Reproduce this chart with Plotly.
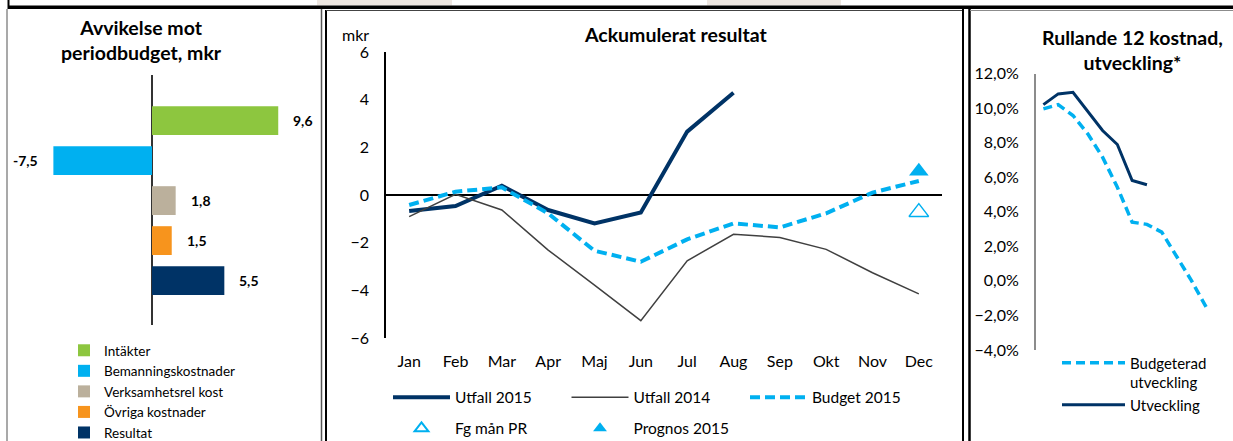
import plotly.graph_objects as go

W, H = 1233, 441

# ---------------- Data ----------------
# Left panel: deviation against period budget (mkr)
dev_categories = ["Intäkter", "Bemanningskostnader", "Verksamhetsrel kost", "Övriga kostnader", "Resultat"]
dev_values = [9.6, -7.5, 1.8, 1.5, 5.5]
dev_colors = ["#8DC63F", "#00B0F0", "#BBB09C", "#F7941D", "#003366"]

# Middle panel: accumulated result (mkr)
months = ["Jan", "Feb", "Mar", "Apr", "Maj", "Jun", "Jul", "Aug", "Sep", "Okt", "Nov", "Dec"]
utfall_2015 = [-0.67, -0.46, 0.39, -0.63, -1.19, -0.73, 2.66, 4.29, None, None, None, None]
utfall_2014 = [-0.91, 0.03, -0.63, -2.31, -3.78, -5.27, -2.76, -1.65, -1.78, -2.28, -3.26, -4.15]
budget_2015 = [-0.42, 0.14, 0.32, -0.77, -2.34, -2.80, -1.86, -1.19, -1.36, -0.77, 0.10, 0.59]
fg_man_pr = [None] * 11 + [-0.72]
prognos_2015 = [None] * 11 + [1.00]

# Right panel: rolling 12 cost development (%)
roll_months = list(range(1, 13))
roll_budget = [9.95, 10.2, 9.57, 8.51, 7.16, 5.42, 3.40, 3.27, 2.82, 1.38, 0.03, -1.51]
roll_utveckling = [10.2, 10.82, 10.91, 9.81, 8.70, 7.89, 5.81, 5.56, None, None, None, None]

NAVY = "#003366"
LIGHT = "#00B0F0"
FONT = "Lato"


def px_x(p):
    return p / W


def px_y(p):
    return 1 - p / H


fig = go.Figure()

# ---------------- Left: horizontal bars ----------------
for cat, val, col in zip(dev_categories, dev_values, dev_colors):
    fig.add_trace(go.Bar(
        x=[val], y=[cat], orientation="h", name=cat, width=0.72,
        marker=dict(color=col, line=dict(width=0)),
        xaxis="x", yaxis="y", legend="legend", hoverinfo="x+name",
    ))

# ---------------- Middle: lines ----------------
fig.add_trace(go.Scatter(x=months, y=utfall_2015, name="Utfall 2015", mode="lines",
                         line=dict(color=NAVY, width=4), xaxis="x2", yaxis="y2", legend="legend2"))
fig.add_trace(go.Scatter(x=months, y=utfall_2014, name="Utfall 2014", mode="lines",
                         line=dict(color="#404040", width=1.5), xaxis="x2", yaxis="y2", legend="legend2"))
fig.add_trace(go.Scatter(x=months, y=budget_2015, name="Budget 2015", mode="lines",
                         line=dict(color=LIGHT, width=4, dash="10px,5px"), xaxis="x2", yaxis="y2", legend="legend2"))
fig.add_trace(go.Scatter(x=months, y=fg_man_pr, name="Fg mån PR", mode="markers",
                         marker=dict(symbol="triangle-up-open", size=17, color=LIGHT, line=dict(width=1.5, color=LIGHT)),
                         xaxis="x2", yaxis="y2", legend="legend3"))
fig.add_trace(go.Scatter(x=months, y=prognos_2015, name="Prognos 2015", mode="markers",
                         marker=dict(symbol="triangle-up", size=17, color=LIGHT),
                         xaxis="x2", yaxis="y2", legend="legend3"))

# ---------------- Right: lines ----------------
fig.add_trace(go.Scatter(x=roll_months, y=roll_budget, name="Budgeterad<br>utveckling", mode="lines",
                         line=dict(color=LIGHT, width=3.5, dash="9px,5px"), xaxis="x3", yaxis="y3",
                         legend="legend4", legendgroup="b"))
fig.add_trace(go.Scatter(x=roll_months, y=roll_utveckling, name="Utveckling", mode="lines",
                         line=dict(color=NAVY, width=3), xaxis="x3", yaxis="y3",
                         legend="legend4", legendgroup="u"))

# ---------------- Axes ----------------
left_zero_px, left_scale = 152, 13.15
left_dom = (30, 310)
TICKF = dict(size=16, color="#000")
fig.update_layout(
    xaxis=dict(domain=[px_x(left_dom[0]), px_x(left_dom[1])],
               range=[(left_dom[0] - left_zero_px) / left_scale, (left_dom[1] - left_zero_px) / left_scale],
               showgrid=False, showticklabels=False, ticks="", showline=False,
               zeroline=True, zerolinecolor="#333333", zerolinewidth=1.5, anchor="y"),
    yaxis=dict(domain=[px_y(325), px_y(75)], type="category",
               categoryorder="array", categoryarray=dev_categories,
               range=[5.11, -1.14], showgrid=False, showticklabels=False, ticks="",
               showline=False, zeroline=False, anchor="x"),
    xaxis2=dict(domain=[px_x(386), px_x(942)], type="category", range=[-0.5, 11.5],
                showgrid=False, showline=False, ticks="", zeroline=False,
                tickfont=TICKF, ticklabelstandoff=12, anchor="y2"),
    yaxis2=dict(domain=[px_y(338), px_y(52)], range=[-6, 6], dtick=2, tick0=0,
                showgrid=False, showline=True, linecolor="#000", linewidth=1.5, ticks="",
                zeroline=True, zerolinecolor="#000", zerolinewidth=1.5,
                tickfont=TICKF, ticklabelstandoff=12, anchor="x2"),
    xaxis3=dict(domain=[px_x(1036), px_x(1213.5)], range=[0.5, 12.5],
                showgrid=False, showline=False, ticks="", showticklabels=False,
                zeroline=False, anchor="y3"),
    yaxis3=dict(domain=[px_y(350), px_y(73.5)], range=[-4, 12], dtick=2, tick0=0,
                tickformat=".1f", ticksuffix="%",
                showgrid=False, showline=True, linecolor="#8C8C8C", linewidth=2, ticks="",
                zeroline=False, tickfont=TICKF, ticklabelstandoff=12,
                anchor="x3"),
)

# ---------------- Legends ----------------
fig.update_layout(
    showlegend=True,
    legend=dict(x=px_x(64), y=px_y(335), xanchor="left", yanchor="top", orientation="v",
                traceorder="normal", bgcolor="rgba(0,0,0,0)", font=dict(size=13.5, color="#000")),
    legend2=dict(x=px_x(388), y=px_y(380.75), xanchor="left", yanchor="top", orientation="h",
                 itemwidth=57, entrywidth=106.5, traceorder="normal", bgcolor="rgba(0,0,0,0)",
                 font=dict(size=15.5, color="#000")),
    legend3=dict(x=px_x(388), y=px_y(411.75), xanchor="left", yanchor="top", orientation="h",
                 itemwidth=57, entrywidth=106.5, itemsizing="constant", traceorder="normal",
                 bgcolor="rgba(0,0,0,0)", font=dict(size=15.5, color="#000")),
    legend4=dict(x=px_x(1057), y=px_y(346.4), xanchor="left", yanchor="top", orientation="v",
                 itemwidth=63, valign="top", tracegroupgap=7, traceorder="normal",
                 bgcolor="rgba(0,0,0,0)", font=dict(size=15, color="#000")),
)

# ---------------- Annotations ----------------
ann = []
for cat, val in zip(dev_categories, dev_values):
    ann.append(dict(x=val, y=cat, xref="x", yref="y", showarrow=False,
                    text="<b>%s</b>" % ("%.1f" % val).replace(".", ","),
                    xanchor="left" if val >= 0 else "right", xshift=13 if val >= 0 else -13,
                    font=dict(size=14, color="#000")))
TITLEF = dict(size=19.5, color="#000")
ann.append(dict(x=px_x(141), y=px_y(40.5), xref="paper", yref="paper", showarrow=False,
                text="<b>Avvikelse mot<br>periodbudget, mkr</b>", xanchor="center", yanchor="middle",
                font=TITLEF))
ann.append(dict(x=px_x(675), y=px_y(34), xref="paper", yref="paper", showarrow=False,
                text="<b>Ackumulerat resultat</b>", xanchor="center", yanchor="middle",
                font=TITLEF))
ann.append(dict(x=px_x(355), y=px_y(34), xref="paper", yref="paper", showarrow=False,
                text="mkr", xanchor="center", yanchor="middle", font=dict(size=16, color="#000")))
ann.append(dict(x=px_x(1132), y=px_y(49.5), xref="paper", yref="paper", showarrow=False,
                text="<b>Rullande 12 kostnad,<br>utveckling*</b>", xanchor="center", yanchor="middle",
                font=TITLEF))

# ---------------- Frame shapes ----------------
def rect(x0, y0, x1, y1, color):
    return dict(type="rect", xref="paper", yref="paper", x0=px_x(x0), x1=px_x(x1),
                y0=px_y(y1), y1=px_y(y0), fillcolor=color, line=dict(width=0), layer="above")


def vline(x, y0, y1, color, w):
    return dict(type="line", xref="paper", yref="paper", x0=px_x(x), x1=px_x(x),
                y0=px_y(y0), y1=px_y(y1), line=dict(color=color, width=w), layer="above")


def hline(y, x0, x1, color, w):
    return dict(type="line", xref="paper", yref="paper", x0=px_x(x0), x1=px_x(x1),
                y0=px_y(y), y1=px_y(y), line=dict(color=color, width=w), layer="above")


shapes = [
    rect(317, 0, 452, 5.5, "#EDE6E0"),
    rect(707, 0, 841, 5.5, "#EDE6E0"),
    rect(8, 5.5, W, 9, "#000000"),
    rect(7.5, 0, 9.5, 9, "#000000"),
    vline(7, 9, H, "#8C8C8C", 1.5),
    vline(321.5, 9, H, "#555555", 1.5),
    vline(326, 10, H, "#000000", 2),
    hline(10.5, 326, 963, "#444444", 1),
    vline(963, 9, H, "#000000", 2),
    vline(969.5, 9, H, "#000000", 2.5),
    hline(10.5, 970, W, "#8C8C8C", 1),
]

fig.update_layout(
    annotations=ann, shapes=shapes,
    width=W, height=H, autosize=False,
    margin=dict(l=0, r=0, t=0, b=0, autoexpand=False),
    paper_bgcolor="white", plot_bgcolor="white",
    font=dict(family=FONT, color="#000"),
    separators=", ",
    barmode="overlay",
)

fig.write_html("out.html", config={"displayModeBar": False},
               post_script="document.body.style.margin='0';document.body.style.overflow='hidden';")
